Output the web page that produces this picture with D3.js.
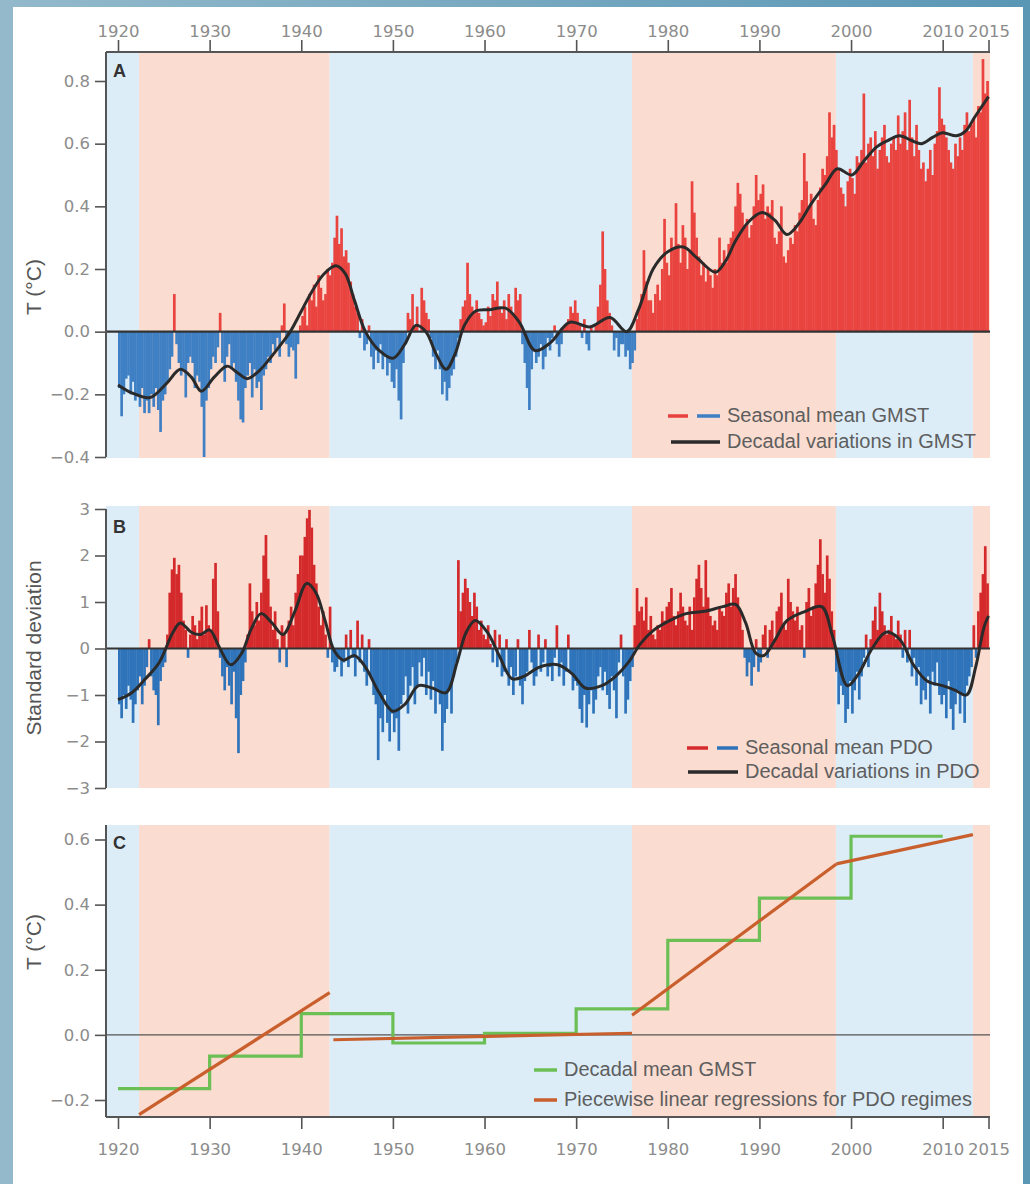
<!DOCTYPE html>
<html lang="en">
<head>
<meta charset="UTF-8">
<title>GMST and PDO, 1920-2015</title>
<script src="https://cdnjs.cloudflare.com/ajax/libs/d3/7.8.5/d3.min.js"></script>
<style>
  body { margin: 0; background: #fff; }
  svg { display: block; }
  .tick text { font-family: "DejaVu Sans", sans-serif; font-size: 16.5px; fill: #8c8c8c; }
  .tick line { stroke: #555; stroke-width: 1.6; }
  .domain { display: none; }
  .legend text { font-family: "Liberation Sans", Arial, sans-serif; font-size: 20px; fill: #5e5e5e; }
  .ylabel { font-family: "Liberation Sans", Arial, sans-serif; font-size: 21px; fill: #555; }
  .plabel { font-family: "Liberation Sans", Arial, sans-serif; font-size: 18px; font-weight: bold; fill: #333; }
</style>
</head>
<body>
<div id="chart"></div>
<script>
// ---- data ----
const firstYear = 1920;
const xTicks = [1920, 1930, 1940, 1950, 1960, 1970, 1980, 1990, 2000, 2010, 2015];

// PDO regime boundaries (years) and the sign of each regime
const regimeBreaks = [1922.3, 1943.1, 1976.1, 1998.35, 2013.3];
const regimePhase = ["neg", "pos", "neg", "pos", "neg", "pos"];

// seasonal mean GMST (deg C), four seasons per year, 1920-2014
const gmstSeasonal = [
  [-0.18,-0.27,-0.20,-0.15],[-0.14,-0.20,-0.16,-0.22],[-0.20,-0.24,-0.18,-0.26],[-0.22,-0.26,-0.20,-0.24],
  [-0.18,-0.25,-0.32,-0.22],[-0.20,-0.16,-0.12,-0.08],[0.12,-0.04,-0.10,-0.14],[-0.12,-0.21,-0.10,-0.08],
  [-0.10,-0.18,-0.14,-0.16],[-0.24,-0.40,-0.22,-0.18],[-0.12,-0.08,-0.10,-0.05],[0.06,-0.10,-0.16,-0.08],
  [-0.04,-0.12,-0.10,-0.16],[-0.22,-0.28,-0.29,-0.18],[-0.14,-0.10,-0.21,-0.12],[-0.18,-0.16,-0.25,-0.14],
  [-0.12,-0.08,-0.10,-0.04],[-0.06,-0.02,-0.08,0.02],[0.09,-0.04,-0.08,-0.05],[-0.06,-0.15,-0.04,0.02],
  [0.05,0.08,0.02,0.12],[0.10,0.15,0.08,0.18],[0.14,0.10,0.12,0.20],[0.18,0.22,0.30,0.37],
  [0.28,0.33,0.24,0.26],[0.22,0.16,0.12,0.08],[0.06,-0.02,0.04,-0.06],[-0.04,0.02,-0.08,-0.12],
  [-0.06,-0.10,-0.04,-0.12],[-0.08,-0.14,-0.10,-0.16],[-0.18,-0.12,-0.22,-0.28],[-0.10,-0.04,0.06,0.04],
  [0.12,0.02,0.08,0.00],[0.14,0.10,0.06,0.04],[-0.02,-0.08,-0.12,-0.06],[-0.12,-0.20,-0.16,-0.22],
  [-0.18,-0.14,-0.12,-0.08],[-0.02,0.04,0.08,0.10],[0.22,0.12,0.08,0.06],[0.10,0.06,0.04,0.02],
  [0.03,0.08,0.05,0.12],[0.10,0.16,0.08,0.06],[0.10,0.04,0.12,0.08],[0.06,0.14,0.10,0.12],
  [-0.04,-0.10,-0.18,-0.25],[-0.12,-0.06,-0.10,-0.08],[-0.04,-0.12,-0.08,-0.02],[-0.06,-0.02,0.02,-0.04],
  [-0.08,-0.04,0.01,0.02],[0.04,0.08,0.06,0.10],[0.06,0.02,-0.02,0.04],[-0.04,-0.06,0.02,0.00],
  [0.02,0.08,0.15,0.32],[0.20,0.10,0.06,0.02],[-0.06,-0.02,-0.08,-0.04],[-0.04,-0.08,-0.06,-0.12],
  [-0.10,-0.06,0.04,0.08],[0.12,0.26,0.16,0.10],[0.10,0.06,0.12,0.15],[0.10,0.20,0.36,0.22],
  [0.18,0.30,0.26,0.41],[0.28,0.22,0.34,0.30],[0.20,0.26,0.48,0.38],[0.30,0.24,0.18,0.22],
  [0.16,0.20,0.18,0.14],[0.20,0.18,0.30,0.22],[0.26,0.22,0.28,0.30],[0.32,0.40,0.475,0.44],
  [0.38,0.34,0.36,0.30],[0.34,0.40,0.50,0.42],[0.44,0.47,0.36,0.40],[0.38,0.42,0.30,0.28],
  [0.32,0.40,0.24,0.22],[0.26,0.30,0.28,0.34],[0.32,0.38,0.42,0.57],[0.48,0.40,0.44,0.36],
  [0.34,0.42,0.46,0.52],[0.50,0.56,0.70,0.62],[0.66,0.58,0.52,0.46],[0.44,0.40,0.48,0.52],
  [0.49,0.44,0.56,0.54],[0.58,0.76,0.54,0.60],[0.62,0.56,0.64,0.52],[0.58,0.62,0.66,0.56],
  [0.54,0.60,0.62,0.58],[0.69,0.60,0.64,0.70],[0.58,0.74,0.62,0.56],[0.66,0.58,0.52,0.54],
  [0.48,0.52,0.58,0.50],[0.60,0.64,0.78,0.68],[0.66,0.62,0.58,0.54],[0.52,0.60,0.56,0.62],
  [0.58,0.66,0.70,0.64],[0.66,0.68,0.62,0.72],[0.70,0.87,0.76,0.80]
];

// seasonal mean PDO index (standard deviations), 1920-2014
const pdoSeasonal = [
  [-1.2,-1.5,-1.0,-1.3],[-0.8,-1.1,-1.6,-1.2],[-0.9,-0.6,-1.2,-0.8],[-0.4,0.2,-0.6,-0.9],
  [-1.0,-1.65,-0.7,-0.4],[-0.3,0.3,1.2,1.7],[1.95,1.6,1.8,1.2],[0.6,0.4,-0.2,0.3],
  [0.7,0.5,0.2,0.6],[0.9,0.3,0.93,0.5],[0.4,1.5,1.84,0.8],[-0.2,-0.6,-0.9,-0.4],
  [-0.8,-1.2,-0.5,-1.5],[-2.25,-1.0,-0.7,-0.3],[0.3,1.4,0.8,0.5],[1.0,0.6,1.2,2.0],
  [2.44,1.5,0.9,0.4],[0.8,0.2,-0.3,0.5],[0.3,-0.4,0.6,0.9],[0.5,1.2,1.6,2.0],
  [2.0,2.4,2.8,2.98],[2.6,1.8,1.4,0.9],[0.5,0.8,0.3,-0.2],[0.9,-0.3,-0.5,-0.4],
  [-0.2,-0.6,-0.3,0.3],[-0.4,0.4,-0.2,-0.6],[0.6,-0.3,0.3,-0.5],[-0.8,0.2,-0.6,-1.0],
  [-1.2,-2.4,-1.5,-1.8],[-1.0,-1.6,-2.0,-1.4],[-1.8,-1.5,-2.2,-1.2],[-1.0,-0.6,-1.4,-0.8],
  [-0.4,-1.2,-0.8,-0.3],[-0.6,-0.2,-1.0,-0.5],[-1.1,-0.7,-1.4,-0.9],[-1.2,-2.2,-1.6,-1.3],
  [-0.9,-1.4,-0.6,-0.3],[1.9,0.8,1.2,1.5],[1.3,1.0,0.7,1.2],[0.9,0.4,0.6,0.3],
  [0.2,0.5,0.1,-0.3],[0.4,-0.4,0.3,-0.6],[-0.5,0.2,-0.8,-0.4],[-1.0,-0.6,0.2,-0.8],
  [-1.2,-0.7,-0.5,0.4],[-0.3,-0.8,-0.6,0.3],[-0.5,-0.3,0.2,-0.6],[-0.4,-0.7,-0.2,0.5],
  [-0.6,-0.3,-0.8,-0.5],[0.3,-0.5,-0.9,-0.7],[-0.8,-1.3,-1.6,-1.0],[-1.7,-1.2,-0.9,-1.4],
  [-1.1,-0.6,-0.4,-0.9],[-0.5,-1.0,-1.3,-0.6],[-0.9,-1.5,-0.3,0.3],[-0.6,-1.4,-1.1,-0.7],
  [-0.4,0.5,1.3,0.8],[0.9,0.6,1.1,0.4],[0.7,0.3,0.2,0.5],[0.4,0.8,0.6,0.9],
  [1.0,1.3,0.7,0.5],[0.8,1.2,0.9,0.6],[0.5,0.9,0.4,1.1],[1.5,1.8,1.3,0.9],
  [1.9,1.1,0.7,0.5],[0.6,0.4,0.9,0.8],[0.7,1.2,1.4,0.9],[1.3,1.6,1.1,0.8],
  [0.4,-0.2,-0.6,-0.3],[-0.8,-0.4,0.2,-0.5],[-0.3,0.3,0.5,-0.2],[0.4,0.6,0.2,0.8],
  [0.9,1.2,0.5,0.4],[1.5,1.0,0.8,0.6],[0.9,0.4,0.5,-0.2],[1.0,1.3,0.7,0.9],
  [1.4,1.8,2.35,1.6],[1.2,2.0,1.5,0.8],[0.4,-0.5,-1.2,-0.8],[-1.0,-1.6,-1.3,-0.7],
  [-1.4,-0.9,-0.5,-1.1],[-0.6,-0.2,0.3,-0.4],[0.2,0.6,0.9,0.4],[1.2,0.8,0.5,0.3],
  [0.4,0.7,0.3,0.2],[0.6,0.3,-0.2,0.4],[-0.3,0.4,-0.6,-0.2],[-0.8,-0.4,-1.2,-0.9],
  [-1.1,-0.6,-1.4,-0.5],[-0.8,-0.3,-1.0,-1.2],[-1.0,-1.5,-0.7,-1.3],[-1.75,-1.2,-0.9,-1.4],
  [-1.0,-1.6,-0.8,-0.6],[-0.4,0.5,-0.2,0.8],[1.2,1.6,2.2,1.4]
];

// decadal variations (smoothed curves), knots as [year, value]
const gmstDecadal = [
  [1920,-0.17],[1921.5,-0.195],[1923.5,-0.21],[1925.3,-0.165],[1926.8,-0.12],[1928,-0.145],
  [1929.1,-0.19],[1930.5,-0.145],[1931.9,-0.11],[1933,-0.13],[1934.1,-0.15],[1935.4,-0.125],
  [1936.6,-0.085],[1937.8,-0.04],[1938.8,0.0],[1940,0.065],[1941.2,0.13],[1942.5,0.185],
  [1943.8,0.21],[1944.8,0.185],[1945.8,0.1],[1947,0.0],[1948.5,-0.06],[1950,-0.085],
  [1951.3,-0.04],[1952.5,0.02],[1953.6,0.0],[1954.7,-0.07],[1955.8,-0.12],[1956.8,-0.07],
  [1957.8,0.02],[1959,0.065],[1960.5,0.07],[1962.3,0.075],[1963.8,0.03],[1965.5,-0.06],
  [1967.2,-0.035],[1969.3,0.03],[1971.5,0.015],[1973.7,0.045],[1975.5,0.0],[1976.8,0.07],
  [1978.4,0.2],[1980,0.255],[1981.7,0.27],[1983.2,0.235],[1985.2,0.19],[1986.3,0.225],
  [1987.4,0.29],[1988.8,0.35],[1990.3,0.38],[1991.7,0.355],[1993,0.31],[1994.3,0.345],
  [1995.7,0.41],[1997.2,0.47],[1998.5,0.52],[2000.1,0.5],[2001.4,0.545],[2002.8,0.59],
  [2004,0.61],[2005.3,0.625],[2006.6,0.61],[2007.7,0.6],[2008.9,0.62],[2010,0.635],
  [2011.5,0.625],[2012.5,0.64],[2013.5,0.685],[2015,0.75]
];
const pdoDecadal = [
  [1920,-1.1],[1921.5,-0.95],[1923,-0.65],[1924.5,-0.3],[1926,0.35],[1926.8,0.55],[1928,0.35],
  [1929,0.3],[1930,0.4],[1931,0.05],[1932.3,-0.35],[1933.5,-0.1],[1934.5,0.4],[1935.6,0.75],
  [1936.8,0.55],[1938,0.3],[1939.3,0.8],[1940.6,1.4],[1941.6,1.2],[1942.6,0.6],[1943.6,-0.05],
  [1944.6,-0.25],[1945.8,-0.15],[1947,-0.4],[1948.5,-0.95],[1950,-1.35],[1951.3,-1.2],
  [1952.8,-0.8],[1954.3,-0.85],[1955.8,-0.95],[1957,-0.3],[1958,0.35],[1959,0.6],[1960.3,0.35],
  [1961.6,-0.15],[1963,-0.65],[1964.3,-0.6],[1966,-0.4],[1968,-0.35],[1969.6,-0.55],[1971,-0.85],
  [1972.8,-0.8],[1974.3,-0.6],[1975.7,-0.3],[1977,0.1],[1978.5,0.4],[1980.2,0.6],[1982,0.75],
  [1984,0.8],[1986,0.9],[1987.4,0.95],[1988.5,0.55],[1989.6,-0.1],[1990.5,-0.15],[1991.6,0.15],
  [1993,0.6],[1995,0.8],[1996.8,0.9],[1998,0.25],[1999.6,-0.8],[2000.8,-0.55],[2002.3,0.0],
  [2003.8,0.35],[2005.3,0.2],[2006.8,-0.35],[2008.3,-0.7],[2010,-0.8],[2011.4,-0.9],
  [2012.6,-1.0],[2013.6,-0.4],[2014.5,0.45],[2015,0.7]
];

// panel C: decadal mean GMST and piecewise regressions per PDO regime
const decadeStarts = [1920, 1930, 1940, 1950, 1960, 1970, 1980, 1990, 2000];
const decadeMeans = [-0.165, -0.065, 0.065, -0.025, 0.005, 0.08, 0.29, 0.42, 0.61];
const regressions = [
  [[1922.3, -0.245], [1943.1, 0.13]],
  [[1943.5, -0.015], [1976.1, 0.005]],
  [[1976.1, 0.06], [1998.4, 0.525]],
  [[1998.4, 0.525], [2013.3, 0.615]]
];

const legendA = ["Seasonal mean GMST", "Decadal variations in GMST"];
const legendB = ["Seasonal mean PDO", "Decadal variations in PDO"];
const legendC = ["Decadal mean GMST", "Piecewise linear regressions for PDO regimes"];

// ---- drawing ----
const W = 1030, H = 1184;
const svg = d3.select("#chart").append("svg").attr("width", W).attr("height", H);

const grad = svg.append("defs").append("linearGradient").attr("id", "frame").attr("x1", "0").attr("x2", "1");
grad.append("stop").attr("offset", "0%").attr("stop-color", "#93b9cb");
grad.append("stop").attr("offset", "100%").attr("stop-color", "#5a97b5");
svg.append("rect").attr("width", W).attr("height", H).attr("fill", "url(#frame)");
svg.append("rect").attr("x", 13).attr("y", 7).attr("width", 1010).attr("height", H - 7).attr("fill", "#fff");

const left = 106, right = 990;
const x = d3.scaleLinear().domain([1920, 2015]).range([118, 988.5]);
const xMin = x.invert(left), xMax = x.invert(right);

const yA = d3.scaleLinear().domain([-0.4, 0.8]).range([457, 81]);
const yB = d3.scaleLinear().domain([-3, 3]).range([788, 509]);
const yC = d3.scaleLinear().domain([-0.2, 0.6]).range([1100, 839.5]);

const phaseColor = { neg: "#dcedf8", pos: "#fbdcd0" };
const edges = [xMin, ...regimeBreaks, xMax];
const regimes = regimePhase.map((p, i) => ({ a: edges[i], b: edges[i + 1], p }));

function shade(top, bottom) {
  svg.append("g").selectAll("rect").data(regimes).join("rect")
    .attr("x", d => x(d.a)).attr("width", d => x(d.b) - x(d.a))
    .attr("y", top).attr("height", bottom - top)
    .attr("fill", d => phaseColor[d.p]);
}
shade(52, 458);
shade(506, 788);
shade(825, 1117);

function seasonal(rows) {
  const out = [];
  rows.forEach((r, i) => r.forEach((v, s) => out.push({ t: firstYear + i + s / 4, v })));
  return out;
}

function bars(rows, y, pos, neg) {
  svg.append("g").selectAll("rect").data(seasonal(rows)).join("rect")
    .attr("x", d => x(d.t))
    .attr("width", d => x(d.t + 0.25) - x(d.t) + 0.4)
    .attr("y", d => Math.min(y(d.v), y(0)))
    .attr("height", d => Math.abs(y(d.v) - y(0)))
    .attr("fill", d => d.v >= 0 ? pos : neg);
}
bars(gmstSeasonal, yA, "#e9443f", "#3f80c4");
bars(pdoSeasonal, yB, "#d42a2c", "#2f74ba");

function hline(y, x1, x2, color, w) {
  svg.append("line").attr("x1", x1).attr("x2", x2).attr("y1", y).attr("y2", y)
    .attr("stroke", color).attr("stroke-width", w);
}
function vline(xp, y1, y2, color, w) {
  svg.append("line").attr("x1", xp).attr("x2", xp).attr("y1", y1).attr("y2", y2)
    .attr("stroke", color).attr("stroke-width", w);
}

hline(yA(0), left, right, "#333", 2.2);
hline(yB(0), left, right, "#333", 1.8);
hline(yC(0), left, right, "#555", 1.4);

const smooth = y => d3.line().x(d => x(d[0])).y(d => y(d[1])).curve(d3.curveCatmullRom.alpha(0.5));
svg.append("path").attr("d", smooth(yA)(gmstDecadal))
  .attr("fill", "none").attr("stroke", "#2a2a2a").attr("stroke-width", 3);
svg.append("path").attr("d", smooth(yB)(pdoDecadal))
  .attr("fill", "none").attr("stroke", "#2a2a2a").attr("stroke-width", 3);

// panel C lines
const steps = decadeStarts.map((d, i) => [d, decadeMeans[i]]);
steps.push([decadeStarts[decadeStarts.length - 1] + 10, decadeMeans[decadeMeans.length - 1]]);
svg.append("path")
  .attr("d", d3.line().x(d => x(d[0])).y(d => yC(d[1])).curve(d3.curveStepAfter)(steps))
  .attr("fill", "none").attr("stroke", "#6cbf55").attr("stroke-width", 3.2);
svg.append("g").selectAll("path").data(regressions).join("path")
  .attr("d", d3.line().x(d => x(d[0])).y(d => yC(d[1])))
  .attr("fill", "none").attr("stroke", "#c95f2d").attr("stroke-width", 3.2);

// axes
const axisColor = "#555";
svg.append("g").attr("transform", "translate(0,52)")
  .call(d3.axisTop(x).tickValues(xTicks).tickFormat(d3.format("d")).tickSize(12).tickPadding(3));
svg.append("g").attr("transform", "translate(0,1117)")
  .call(d3.axisBottom(x).tickValues(xTicks).tickFormat(d3.format("d")).tickSize(12).tickPadding(14));

svg.append("g").attr("transform", `translate(${left},0)`)
  .call(d3.axisLeft(yA).tickValues([-0.4, -0.2, 0, 0.2, 0.4, 0.6, 0.8]).tickFormat(d3.format(".1f")).tickSize(11).tickPadding(5));
svg.append("g").attr("transform", `translate(${left},0)`)
  .call(d3.axisLeft(yB).tickValues([-3, -2, -1, 0, 1, 2, 3]).tickFormat(d3.format("d")).tickSize(11).tickPadding(5));
svg.append("g").attr("transform", `translate(${left},0)`)
  .call(d3.axisLeft(yC).tickValues([-0.2, 0, 0.2, 0.4, 0.6]).tickFormat(d3.format(".1f")).tickSize(11).tickPadding(5));

hline(52, left, right, axisColor, 2);
vline(left, 52, yA(-0.4), axisColor, 2);
vline(left, yB(3), yB(-3), axisColor, 2);
vline(left, 825, 1117, axisColor, 2);
hline(1117, left, right, axisColor, 2);

// panel letters
[["A", 77], ["B", 533], ["C", 849]].forEach(([t, yy]) =>
  svg.append("text").attr("class", "plabel").attr("x", 113).attr("y", yy).text(t));

// y labels
[["T (°C)", 287], ["Standard deviation", 648], ["T (°C)", 942]].forEach(([t, yy]) =>
  svg.append("text").attr("class", "ylabel").attr("text-anchor", "middle")
    .attr("transform", `translate(41,${yy}) rotate(-90)`).text(t));

// legends
const lg = svg.append("g").attr("class", "legend");
function legendRow(items, x0, y0, label) {
  items.forEach(([a, b, c]) => lg.append("line").attr("x1", a).attr("x2", b).attr("y1", y0).attr("y2", y0)
    .attr("stroke", c).attr("stroke-width", 3.5));
  lg.append("text").attr("x", x0).attr("y", y0 + 6).text(label);
}
legendRow([[668, 688, "#e8403f"], [697, 720, "#3f80c4"]], 727, 416, legendA[0]);
legendRow([[671, 720, "#2a2a2a"]], 727, 442, legendA[1]);
legendRow([[687, 708, "#d42a2c"], [717, 738, "#2f74ba"]], 745, 748, legendB[0]);
legendRow([[688, 738, "#2a2a2a"]], 745, 772, legendB[1]);
legendRow([[534, 557, "#6cbf55"]], 564, 1070, legendC[0]);
legendRow([[534, 557, "#c95f2d"]], 564, 1100, legendC[1]);
</script>
</body>
</html>
